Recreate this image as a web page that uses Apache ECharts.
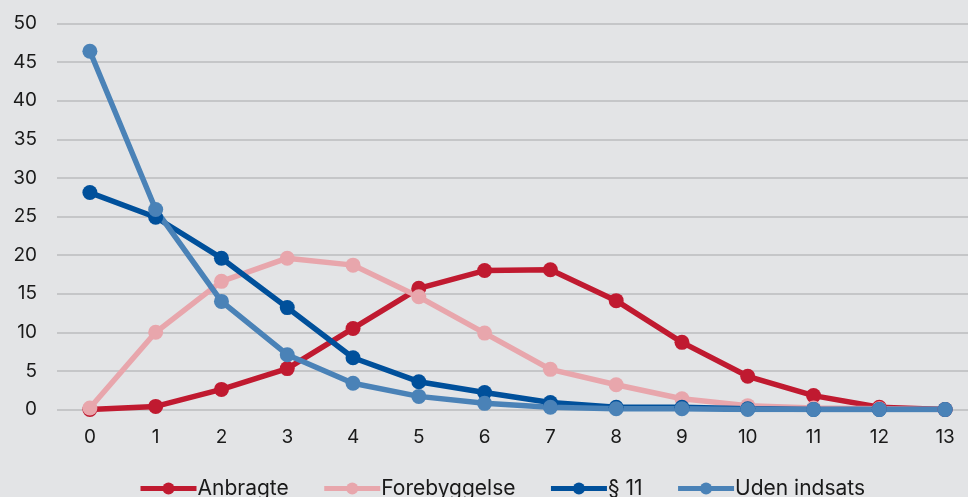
<!DOCTYPE html>
<html>
<head>
<meta charset="utf-8">
<script src="https://cdn.jsdelivr.net/npm/echarts@6/dist/echarts.min.js"></script>
<style>
html,body{margin:0;padding:0;background:#e3e4e6;overflow:hidden;}
#c{width:978px;height:497px;}
</style>
</head>
<body>
<div id="c"></div>
<script>
const categories = ['0','1','2','3','4','5','6','7','8','9','10','11','12','13'];
const anbragte = [0, 0.4, 2.6, 5.3, 10.5, 15.7, 18.0, 18.1, 14.1, 8.7, 4.3, 1.8, 0.3, 0];
const forebyggelse = [0.2, 10.0, 16.6, 19.6, 18.7, 14.6, 9.9, 5.2, 3.2, 1.4, 0.5, 0.2, 0.1, 0];
const paragraf11 = [28.1, 24.9, 19.6, 13.2, 6.7, 3.6, 2.2, 0.9, 0.3, 0.3, 0.1, 0, 0, 0];
const udenIndsats = [46.4, 25.9, 14.0, 7.1, 3.4, 1.7, 0.8, 0.3, 0.1, 0.1, 0, 0, 0, 0];
const seriesNames = ['Anbragte', 'Forebyggelse', '§ 11', 'Uden indsats'];
const yTicks = {min: 0, max: 50, interval: 5};

const colors = ['#c01a30', '#e8a6ac', '#00509b', '#4a82b7'];
const dataSets = [anbragte, forebyggelse, paragraf11, udenIndsats];
const font = 'Inter, Roboto, sans-serif';

const chart = echarts.init(document.getElementById('c'));
chart.setOption({
  backgroundColor: '#e3e4e6',
  animation: false,
  color: colors,
  grid: {left: 57, top: 23.5, right: 0, height: 386, containLabel: false},
  legend: {
    bottom: -2, left: 138, padding: 0,
    data: seriesNames,
    itemWidth: 56, itemHeight: 15, itemGap: 33,
    lineStyle: {width: 5},
    textStyle: {fontFamily: font, fontSize: 21, color: '#1a1a1a', padding: [0, 0, 0, -4]}
  },
  xAxis: {
    type: 'category', data: categories, boundaryGap: true,
    axisLine: {show: false}, axisTick: {show: false},
    axisLabel: {fontFamily: font, fontSize: 19, color: '#1a1a1a', margin: 18}
  },
  yAxis: {
    type: 'value', min: yTicks.min, max: yTicks.max, interval: yTicks.interval,
    axisLine: {show: false}, axisTick: {show: false},
    axisLabel: {fontFamily: font, fontSize: 19, color: '#1a1a1a', margin: 20},
    splitLine: {lineStyle: {color: '#c5c6c8', width: 2}}
  },
  series: dataSets.map((d, i) => ({
    name: seriesNames[i], type: 'line', data: d,
    symbol: 'circle', symbolSize: 15,
    lineStyle: {width: 5.5, color: colors[i]},
    itemStyle: {color: colors[i]}
  }))
});
</script>
</body>
</html>
